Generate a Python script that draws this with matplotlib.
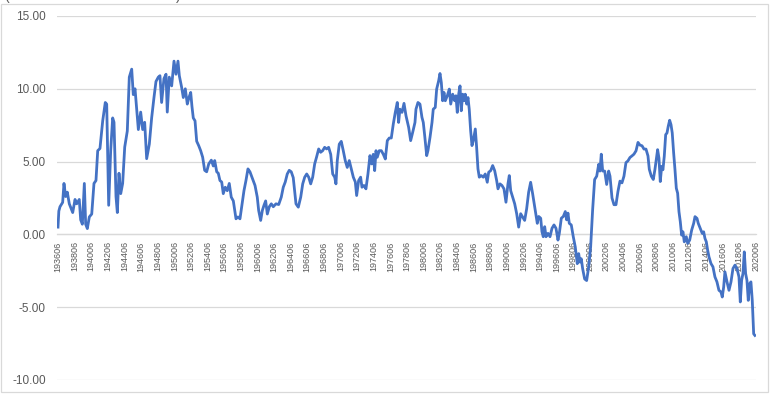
import matplotlib
matplotlib.use("Agg")
import matplotlib.pyplot as plt
from matplotlib.patches import Rectangle

# month positions as fractional years (June of a year = year + 0.5)
dates = [
    1936.50, 1936.60, 1936.74, 1937.06, 1937.22, 1937.42, 1937.62, 1937.86, 1938.27, 1938.55,
    1938.75, 1939.06, 1939.23, 1939.43, 1939.67, 1939.83, 1940.03, 1940.27, 1940.56, 1940.83,
    1941.07, 1941.28, 1941.55, 1941.88, 1942.19, 1942.36, 1942.60, 1942.84, 1943.08, 1943.24,
    1943.48, 1943.64, 1943.84, 1944.05, 1944.28, 1944.53, 1944.84, 1945.08, 1945.37, 1945.56,
    1945.77, 1945.97, 1946.17, 1946.45, 1946.69, 1946.93, 1947.17, 1947.49, 1947.77, 1948.05,
    1948.29, 1948.57, 1948.77, 1948.97, 1949.25, 1949.50, 1949.65, 1949.89, 1950.18, 1950.46,
    1950.70, 1950.94, 1951.10, 1951.38, 1951.58, 1951.82, 1952.06, 1952.26, 1952.47, 1952.62,
    1952.78, 1952.99, 1953.19, 1953.43, 1953.67, 1953.91, 1954.15, 1954.39, 1954.64, 1954.95,
    1955.19, 1955.36, 1955.60, 1955.79, 1955.99, 1956.20, 1956.39, 1956.63, 1956.87, 1957.11,
    1957.35, 1957.60, 1957.92, 1958.16, 1958.40, 1958.61, 1958.88, 1959.12, 1959.36, 1959.60,
    1959.93, 1960.21, 1960.48, 1960.65, 1960.89, 1961.09, 1961.29, 1961.49, 1961.69, 1961.93,
    1962.17, 1962.41, 1962.73, 1963.06, 1963.37, 1963.61, 1963.85, 1964.09, 1964.33, 1964.57,
    1964.81, 1965.14, 1965.42, 1965.71, 1965.95, 1966.19, 1966.43, 1966.67, 1966.91, 1967.15,
    1967.39, 1967.63, 1967.87, 1968.11, 1968.35, 1968.59, 1968.83, 1969.07, 1969.32, 1969.56,
    1969.80, 1969.95, 1970.11, 1970.35, 1970.59, 1970.83, 1971.07, 1971.31, 1971.55, 1971.79,
    1972.04, 1972.28, 1972.44, 1972.68, 1972.92, 1973.08, 1973.32, 1973.56, 1973.80, 1974.04,
    1974.25, 1974.44, 1974.61, 1974.77, 1974.92, 1975.16, 1975.41, 1975.65, 1975.89, 1976.13,
    1976.37, 1976.61, 1976.85, 1977.09, 1977.33, 1977.49, 1977.65, 1977.90, 1978.14, 1978.38,
    1978.70, 1978.94, 1979.18, 1979.46, 1979.58, 1979.82, 1980.06, 1980.30, 1980.46, 1980.63,
    1980.87, 1981.02, 1981.27, 1981.51, 1981.66, 1981.90, 1982.07, 1982.31, 1982.47, 1982.63,
    1982.79, 1982.95, 1983.11, 1983.35, 1983.59, 1983.76, 1984.00, 1984.24, 1984.39, 1984.55,
    1984.72, 1984.88, 1985.03, 1985.20, 1985.36, 1985.51, 1985.68, 1985.84, 1985.99, 1986.16,
    1986.32, 1986.48, 1986.72, 1986.88, 1987.04, 1987.20, 1987.44, 1987.68, 1987.92, 1988.16,
    1988.33, 1988.57, 1988.81, 1989.05, 1989.29, 1989.45, 1989.69, 1989.93, 1990.17, 1990.41,
    1990.65, 1990.81, 1990.98, 1991.22, 1991.46, 1991.70, 1991.94, 1992.18, 1992.42, 1992.66,
    1992.90, 1993.14, 1993.38, 1993.62, 1993.90, 1994.18, 1994.35, 1994.59, 1994.74, 1994.90,
    1995.07, 1995.23, 1995.47, 1995.71, 1995.95, 1996.19, 1996.43, 1996.67, 1996.83, 1997.07,
    1997.31, 1997.55, 1997.71, 1997.87, 1998.03, 1998.27, 1998.51, 1998.75, 1998.99, 1999.16,
    1999.32, 1999.47, 1999.64, 1999.88, 2000.12, 2000.36, 2000.60, 2000.84, 2001.08, 2001.33,
    2001.57, 2001.72, 2001.88, 2002.05, 2002.29, 2002.53, 2002.77, 2002.93, 2003.17, 2003.41,
    2003.65, 2003.89, 2004.13, 2004.37, 2004.61, 2004.85, 2005.09, 2005.33, 2005.57, 2005.81,
    2006.06, 2006.30, 2006.54, 2006.78, 2007.02, 2007.26, 2007.50, 2007.66, 2007.90, 2008.14,
    2008.34, 2008.66, 2008.82, 2008.98, 2009.15, 2009.30, 2009.46, 2009.63, 2009.79, 2009.94,
    2010.11, 2010.27, 2010.42, 2010.59, 2010.75, 2010.91, 2011.07, 2011.23, 2011.39, 2011.55,
    2011.71, 2011.87, 2012.11, 2012.28, 2012.52, 2012.76, 2013.00, 2013.16, 2013.40, 2013.55,
    2013.79, 2014.03, 2014.20, 2014.36, 2014.52, 2014.68, 2014.84, 2015.08, 2015.32, 2015.56,
    2015.80, 2016.04, 2016.28, 2016.44, 2016.61, 2016.76, 2017.01, 2017.25, 2017.49, 2017.73,
    2017.97, 2018.21, 2018.45, 2018.61, 2018.77, 2018.93, 2019.09, 2019.25, 2019.41, 2019.57,
    2019.74, 2019.89, 2020.05, 2020.22, 2020.37,
]

values = [
    0.5, 1.6, 1.9, 2.2, 3.5, 2.6, 2.9, 2.1, 1.5, 2.4,
    2.1, 2.4, 1.0, 0.7, 3.5, 0.7, 0.4, 1.2, 1.4, 3.5,
    3.7, 5.75, 5.9, 7.8, 9.06, 8.95, 2.0, 5.75, 8.0, 7.7,
    2.6, 1.5, 4.2, 2.8, 3.5, 6.0, 7.1, 10.8, 11.35, 9.6,
    10.0, 8.6, 7.2, 8.4, 7.2, 7.7, 5.2, 6.2, 8.0, 9.4,
    10.5, 10.8, 10.9, 9.06, 10.7, 11.0, 8.4, 10.8, 10.2, 11.9,
    11.0, 11.9, 10.9, 10.1, 9.4, 10.0, 8.95, 9.4, 9.75, 8.8,
    8.0, 7.8, 6.4, 6.1, 5.75, 5.3, 4.4, 4.3, 4.84, 5.1,
    4.7, 5.07, 4.3, 4.2, 3.7, 3.6, 2.8, 3.24, 3.0, 3.5,
    2.56, 2.3, 1.07, 1.2, 1.07, 1.9, 3.0, 3.7, 4.5, 4.3,
    3.8, 3.36, 2.56, 1.64, 0.96, 1.64, 2.0, 2.3, 1.4, 1.9,
    2.1, 1.9, 2.1, 2.05, 2.56, 3.24, 3.6, 4.15, 4.4, 4.3,
    3.9, 2.1, 1.87, 2.56, 3.47, 3.93, 4.15, 3.93, 3.47, 3.93,
    4.84, 5.34, 5.87, 5.64, 5.75, 5.98, 5.87, 5.98, 5.5, 4.15,
    3.93, 3.47, 5.07, 6.2, 6.39, 5.75, 5.07, 4.6, 5.07, 4.5,
    3.93, 3.6, 2.67, 3.7, 3.93, 3.24, 3.36, 3.13, 4.15, 5.41,
    4.84, 5.5, 4.38, 5.75, 5.3, 5.75, 5.75, 5.5, 5.18, 6.44,
    6.62, 6.62, 7.58, 8.38, 9.06, 7.69, 8.6, 8.38, 9.0, 8.15,
    7.35, 6.44, 7.0, 7.69, 8.6, 9.06, 8.95, 8.04, 7.69, 6.78,
    5.41, 5.75, 6.67, 7.69, 8.6, 8.72, 9.98, 10.55, 11.05, 10.43,
    9.18, 9.75, 9.18, 9.52, 9.98, 8.95, 9.63, 9.18, 9.52, 8.38,
    9.63, 10.2, 8.49, 9.63, 9.18, 9.63, 8.95, 9.4, 8.6, 7.12,
    6.1, 6.44, 7.24, 5.98, 4.5, 3.93, 4.04, 3.93, 4.15, 3.58,
    4.27, 4.38, 4.73, 4.38, 3.7, 3.13, 3.47, 3.36, 3.13, 2.21,
    3.47, 4.04, 3.0, 2.56, 2.1, 1.42, 0.5, 1.42, 1.19, 0.96,
    1.76, 2.9, 3.58, 2.79, 1.76, 0.76, 1.23, 1.11, 0.19, -0.16,
    0.53, -0.16, 0.07, -0.16, 0.42, 0.65, 0.42, -0.39, 0.07, 1.11,
    1.23, 1.57, 1.0, 1.46, 0.76, 0.65, -0.16, -0.86, -2.01, -1.32,
    -1.9, -1.67, -2.36, -3.06, -3.17, -2.25, -0.86, 1.69, 3.77, 4.0,
    4.81, 4.35, 5.51, 4.35, 4.35, 3.43, 4.35, 4.0, 2.5, 2.04,
    2.04, 2.96, 3.66, 3.54, 4.0, 4.93, 5.05, 5.28, 5.39, 5.51,
    5.74, 6.32, 6.13, 6.09, 5.86, 5.86, 5.39, 4.47, 4.0, 3.77,
    4.47, 5.82, 5.24, 3.63, 4.67, 4.44, 5.36, 6.85, 6.97, 7.43,
    7.84, 7.54, 6.97, 5.59, 4.44, 3.17, 2.83, 1.56, 0.87, -0.05,
    0.18, -0.51, -0.16, -0.62, -0.39, 0.3, 0.76, 1.22, 1.1, 0.76,
    0.41, 0.07, 0.18, -0.28, -0.51, -1.08, -1.54, -2.0, -2.23, -2.92,
    -3.26, -3.84, -3.95, -4.3, -3.61, -2.57, -3.26, -3.84, -3.26, -2.34,
    -2.11, -2.34, -2.92, -4.64, -3.15, -2.69, -1.2, -2.69, -3.15, -4.53,
    -3.38, -3.26, -4.53, -6.83, -6.94,
]

tick_years = [1936.5 + 2 * i for i in range(43)]
tick_labels = [
    '193606', '193806', '194006', '194206', '194406', '194606', '194806', '195006',
    '195206', '195406', '195606', '195806', '196006', '196206', '196406', '196606',
    '196806', '197006', '197206', '197406', '197606', '197806', '198006', '198206',
    '198406', '198606', '198806', '199006', '199206', '199406', '199606', '199806',
    '200006', '200206', '200406', '200606', '200806', '201006', '201206', '201406',
    '201606', '201806', '202006',
]
y_ticks = [-10, -5, 0, 5, 10, 15]
y_labels = ['-10.00', '-5.00', '0.00', '5.00', '10.00', '15.00']

plt.rcParams['font.family'] = ['Liberation Sans', 'DejaVu Sans']

W, H = 776, 397
fig = plt.figure(figsize=(W / 100, H / 100), dpi=100)
ax = fig.add_axes([57 / W, 1 - 380 / H, (756 - 57) / W, (380 - 16) / H])

ax.plot(dates, values, color='#4472C4', lw=2.0, solid_joinstyle='round', zorder=3)

# spine first: moving it resets the ticks
for s in ['top', 'right', 'left']:
    ax.spines[s].set_visible(False)
ax.spines['bottom'].set_position(('data', 0))
ax.spines['bottom'].set_color('#d9d9d9')
ax.spines['bottom'].set_linewidth(0.9)

ax.set_xlim(1936.38, 2020.5)
ax.set_ylim(-10, 15)
ax.set_yticks(y_ticks)
ax.set_yticklabels(y_labels)
ax.set_xticks(tick_years)
ax.set_xticklabels(tick_labels)

ax.yaxis.grid(True, color='#d9d9d9', lw=0.9)
ax.set_axisbelow(True)

ax.tick_params(axis='y', length=0, labelsize=8.5, labelcolor='#595959', pad=8)
ax.tick_params(axis='x', length=0, labelsize=6.5, labelcolor='#595959', pad=5,
               labelrotation=90)

# chart border and the clipped title above it
fig.patches.append(Rectangle((1 / W, 1 - 392 / H), 767 / W, 388 / H, transform=fig.transFigure,
                             fill=False, ec='#d9d9d9', lw=0.9))
fig.text(4 / W, 1.0, '(', fontsize=10, color='#595959', va='baseline')
fig.text(176 / W, 1.0, ')', fontsize=10, color='#595959', va='baseline')

fig.savefig('out.png', dpi=100)
